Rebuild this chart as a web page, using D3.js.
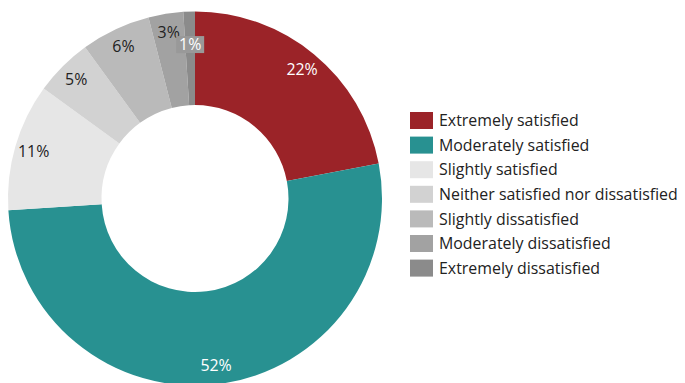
<!DOCTYPE html>
<html><head><meta charset="utf-8">
<script src="https://cdn.jsdelivr.net/npm/d3@7"></script>
<style>body{margin:0;background:#fff;}svg{display:block;font-family:"Open Sans",Lato,sans-serif;}</style>
</head><body>
<svg id="c" width="685" height="383"></svg>
<script>
const categories = ["Extremely satisfied","Moderately satisfied","Slightly satisfied","Neither satisfied nor dissatisfied","Slightly dissatisfied","Moderately dissatisfied","Extremely dissatisfied"];
const values = [22,52,11,5,6,3,1];
const colors = ["#9b2328","#289191","#e6e6e6","#d2d2d2","#bababa","#a2a2a2","#8b8b8b"];
const labelColors = ["#ffffff","#ffffff","#222222","#222222","#222222","#222222","#ffffff"];

const svg = d3.select("#c");
const cx = 195, cy = 198.5, R = 187, r0 = 93.5, rl = 168;
const g = svg.append("g").attr("transform", `translate(${cx},${cy})`);
const data = categories.map((c,i)=>({cat:c, v:values[i], i}));
const pie = d3.pie().value(d=>d.v).sort(null);
const arcs = pie(data);
const arc = d3.arc().innerRadius(r0).outerRadius(R);
g.selectAll("path").data(arcs).join("path").attr("d", arc).attr("fill", d=>colors[d.data.i]);

// legend font size fitted so the longest label spans the reference width
const probe = svg.append("text").attr("font-size",14).text(categories[3]);
const w14 = probe.node().getComputedTextLength();
probe.remove();
const legSize = Math.max(12, Math.min(17, 14*239/w14));

const lab = g.selectAll("g.lab").data(arcs).join("g").attr("class","lab")
  .attr("transform", d=>{
    const a = (d.startAngle+d.endAngle)/2;
    const rr = d.data.v < 2 ? 154 : rl;
    return `translate(${rr*Math.sin(a)},${-rr*Math.cos(a)})`;
  });
lab.filter(d=>d.data.v<2).append("rect").attr("x",-14).attr("y",-8.5).attr("width",28).attr("height",17).attr("fill","#999999");
lab.append("text").attr("text-anchor","middle").attr("dy","0.36em").attr("font-size",legSize)
  .attr("fill", d=>labelColors[d.data.i]).text(d=>d.data.v+"%");

const leg = svg.append("g").attr("transform","translate(410,112)");
const rows = leg.selectAll("g").data(data).join("g").attr("transform",(d,i)=>`translate(0,${i*24.6})`);
rows.append("rect").attr("width",23).attr("height",17).attr("fill",d=>colors[d.i]);
rows.append("text").attr("x",29).attr("y",8.5).attr("dy","0.36em").attr("font-size",legSize).attr("fill","#222").text(d=>d.cat);
</script>
</body></html>
